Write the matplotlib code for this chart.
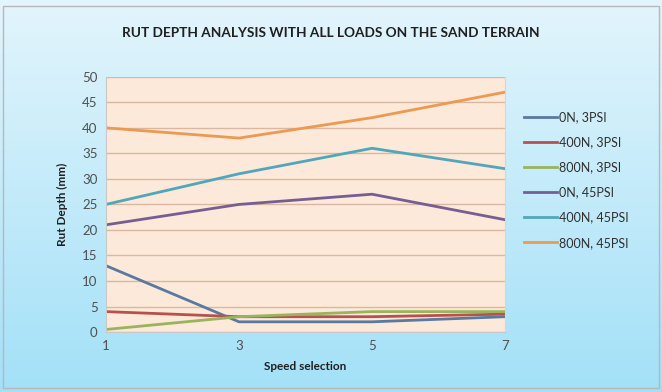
import numpy as np
import matplotlib
matplotlib.use("Agg")
import matplotlib.pyplot as plt
from matplotlib.patches import Rectangle

plt.rcParams['font.family'] = ['Lato', 'DejaVu Sans']

speeds = [1, 3, 5, 7]
series_names = ['0N, 3PSI', '400N, 3PSI', '800N, 3PSI', '0N, 45PSI', '400N, 45PSI', '800N, 45PSI']
n0_3psi = [13, 2, 2, 3]
n400_3psi = [4, 3, 3, 3.5]
n800_3psi = [0.5, 3, 4, 4]
n0_45psi = [21, 25, 27, 22]
n400_45psi = [25, 31, 36, 32]
n800_45psi = [40, 38, 42, 47]
colors = ['#5879a0', '#b85050', '#98b45c', '#765e94', '#50a6ba', '#eb9a52']

fig = plt.figure(figsize=(6.62, 3.92), dpi=100)

# background gradient
bg = fig.add_axes([0, 0, 1, 1], zorder=-10)
grad = np.linspace(0, 1, 256).reshape(-1, 1)
top = np.array([0.89, 0.96, 0.99])
bot = np.array([0.64, 0.88, 0.97])
img = top + (bot - top) * grad[:, :, None]
bg.imshow(img, aspect='auto', extent=[0, 1, 0, 1], origin='upper')
bg.add_patch(Rectangle((0.005, 0.01), 0.99, 0.975, fill=False, edgecolor='#b8b8b8', lw=1))
bg.set_xlim(0, 1)
bg.set_ylim(0, 1)
bg.axis('off')

ax = fig.add_axes([0.16, 0.153, 0.603, 0.651])
ax.set_facecolor('#fde9d9')
all_series = [n0_3psi, n400_3psi, n800_3psi, n0_45psi, n400_45psi, n800_45psi]
for name, vals, c in zip(series_names, all_series, colors):
    ax.plot(speeds, vals, color=c, lw=2, label=name)

ax.set_xlim(1, 7)
ax.set_ylim(0, 50)
ax.set_xticks(speeds)
ax.set_yticks(range(0, 51, 5))
ax.yaxis.grid(True, color='#d9b7a0', lw=1)
ax.set_axisbelow(True)
ax.spines['top'].set_visible(False)
ax.spines['right'].set_color('#e6d2c4')
ax.spines['left'].set_color('#c8c8c8')
ax.spines['bottom'].set_color('#c8c8c8')
ax.tick_params(length=0, labelsize=9.5, colors='#505050', pad=6)
ax.set_xlabel('Speed selection', fontsize=8.5, fontweight='bold', color='#202020', labelpad=6)
ax.set_ylabel('Rut Depth (mm)', fontsize=8.5, fontweight='bold', color='#202020', labelpad=10)

fig.text(0.5, 0.915, 'RUT DEPTH ANALYSIS WITH ALL LOADS ON THE SAND TERRAIN',
         ha='center', va='center', fontsize=9.8, fontweight='bold', color='#202020')

ax.legend(loc='upper left', bbox_to_anchor=(1.02, 0.91), frameon=False, fontsize=9,
          handlelength=2.6, handletextpad=0.2, labelspacing=1.05, labelcolor='#303030')

fig.savefig('out.png', dpi=100)
